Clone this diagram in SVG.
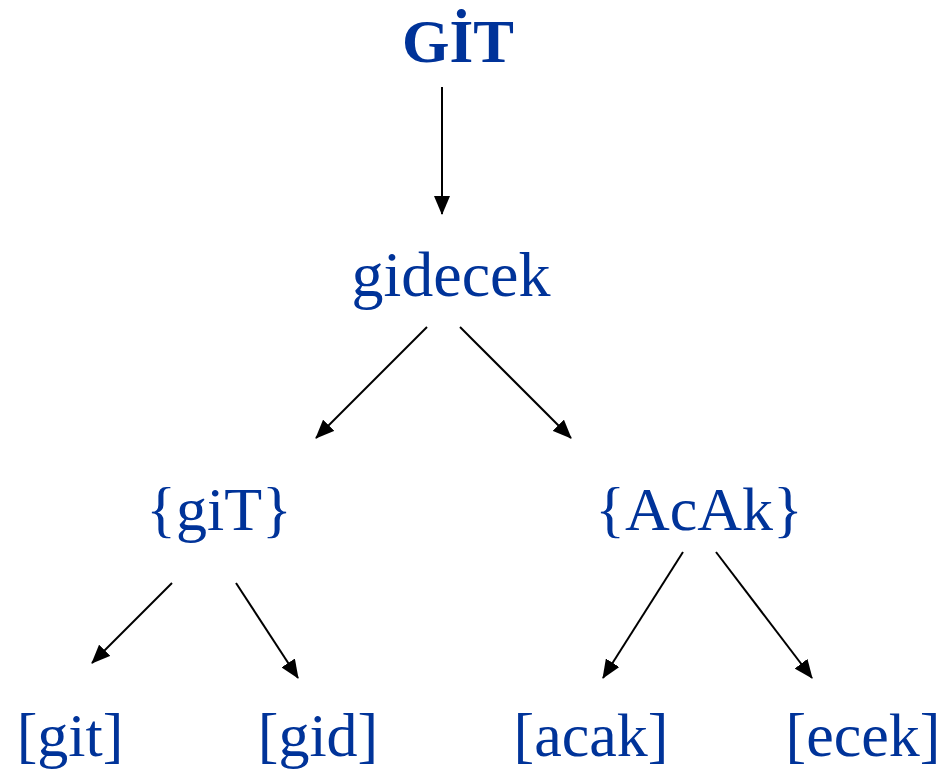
<svg xmlns="http://www.w3.org/2000/svg" width="945" height="772" viewBox="0 0 945 772">
<style>
.t{font-family:"Liberation Serif","Times New Roman",serif;fill:#003399;font-size:62px;text-anchor:middle}
.b{font-weight:bold;font-size:61px}
.c line{stroke:#000;stroke-width:2;marker-end:url(#ah)}
</style>
<defs>
<marker id="ah" markerUnits="userSpaceOnUse" markerWidth="20" markerHeight="16" refX="18" refY="8" orient="auto">
<path d="M0,0 L19,8 L0,16 z" fill="#000"/>
</marker>
</defs>
<rect width="945" height="772" fill="#fff"/>
<g id="n-git"><text class="t b" x="458" y="62">GİT</text></g>
<g id="n-gidecek"><text class="t" x="451" y="296" style="font-size:64px">gidecek</text></g>
<g id="n-giT"><text class="t" x="219" y="530">{giT}</text></g>
<g id="n-AcAk"><text class="t" x="699" y="530">{AcAk}</text></g>
<g id="n-git2"><text class="t" x="70" y="756">[git]</text></g>
<g id="n-gid"><text class="t" x="318" y="756">[gid]</text></g>
<g id="n-acak"><text class="t" x="591" y="756">[acak]</text></g>
<g id="n-ecek"><text class="t" x="863" y="756">[ecek]</text></g>
<g class="c" id="connectors">
<line x1="442" y1="87" x2="442" y2="214"/>
<line x1="427" y1="327" x2="316" y2="438"/>
<line x1="460" y1="327" x2="571" y2="438"/>
<line x1="172" y1="583" x2="92" y2="663"/>
<line x1="236" y1="583" x2="298" y2="678"/>
<line x1="683" y1="552" x2="603" y2="678"/>
<line x1="716" y1="552" x2="812" y2="678"/>
</g>
</svg>
